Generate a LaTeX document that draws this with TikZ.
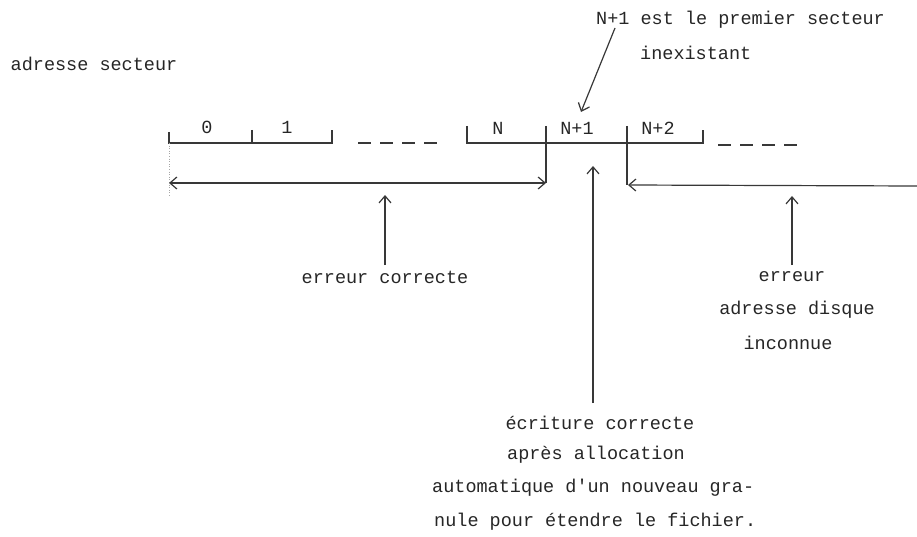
\documentclass[tikz,border=0pt]{standalone}
\usepackage{fontspec}
\setmonofont{Liberation Mono}
\usetikzlibrary{arrows.meta}
\begin{document}
\begin{tikzpicture}[x=1pt,y=-1pt,
  ink/.style={draw=black!78, line width=1.2pt},
  lbl/.style={font=\ttfamily\fontsize{18.5}{18.5}\selectfont, text=black!85, inner sep=0pt},
  barb/.style={-{Straight Barb[length=7pt,width=12pt]}},
  dblbarb/.style={{Straight Barb[length=7pt,width=12pt]}-{Straight Barb[length=7pt,width=12pt]}},
]
\useasboundingbox (0,0) rectangle (917,537);

% sector ruler: sectors 0 and 1
\draw[ink] (169,132) -- (169,143) -- (332,143) -- (332,130);
\draw[ink] (252,130) -- (252,143);
\draw[ink, dash pattern=on 13pt off 9pt] (358,143) -- (442,143);
% sectors N, N+1, N+2
\draw[ink] (467,126) -- (467,143) -- (703,143) -- (703,130);
\draw[ink] (546,126) -- (546,183);
\draw[ink] (627,126) -- (627,185);
\draw[ink, dash pattern=on 13pt off 9pt] (718,145) -- (802,145);
\draw[black!35, line width=0.6pt, dotted] (169,143) -- (169,196);

\node[lbl] (s0) at (207,127) {0};
\node[lbl] (s1) at (287,127) {1};
\node[lbl] (sN) at (498,128) {N};
\node[lbl] (sN1) at (577,128) {N+1};
\node[lbl] (sN2) at (658,128) {N+2};

% ranges below the ruler
\coordinate (a0) at (169,183);
\coordinate (aN) at (546,183);
\coordinate (bN2) at (628,185);
\coordinate (bEnd) at (917,186);
\draw[ink, dblbarb] (a0) -- (aN);
\draw[ink, barb] (bEnd) -- (bN2);

% texts
\node[lbl] (adr) at (94,64) {adresse secteur};
\node[lbl, anchor=west] (prem) at (596,20) {N+1 est le premier secteur};
\node[lbl, anchor=west] (inex) at (640,53) {inexistant};
\node[lbl] (errc) at (385,277) {erreur correcte};
\node[lbl] (err1) at (792,277) {erreur};
\node[lbl] (err2) at (797,310) {adresse disque};
\node[lbl] (err3) at (788,343) {inconnue};
\node[lbl] (ecr1) at (600,423) {écriture correcte};
\node[lbl] (ecr2) at (596,455) {après allocation};
\node[lbl, anchor=west] (ecr3) at (432,488) {automatique d'un nouveau gra-};
\node[lbl, anchor=west] (ecr4) at (434,522) {nule pour étendre le fichier.};

% pointers
\coordinate (premFoot) at (615,28);
\coordinate (premTip) at (581,112);
\draw[ink, barb] (premFoot) -- (premTip);

\coordinate (errcFoot) at (385,265);
\coordinate (errcTip) at (385,195);
\draw[ink, barb] (errcFoot) -- (errcTip);

\coordinate (errdFoot) at (792,265);
\coordinate (errdTip) at (792,196);
\draw[ink, barb] (errdFoot) -- (errdTip);

\coordinate (ecrFoot) at (593,403);
\coordinate (ecrTip) at (593,166);
\draw[ink, barb] (ecrFoot) -- (ecrTip);
\end{tikzpicture}
\end{document}
